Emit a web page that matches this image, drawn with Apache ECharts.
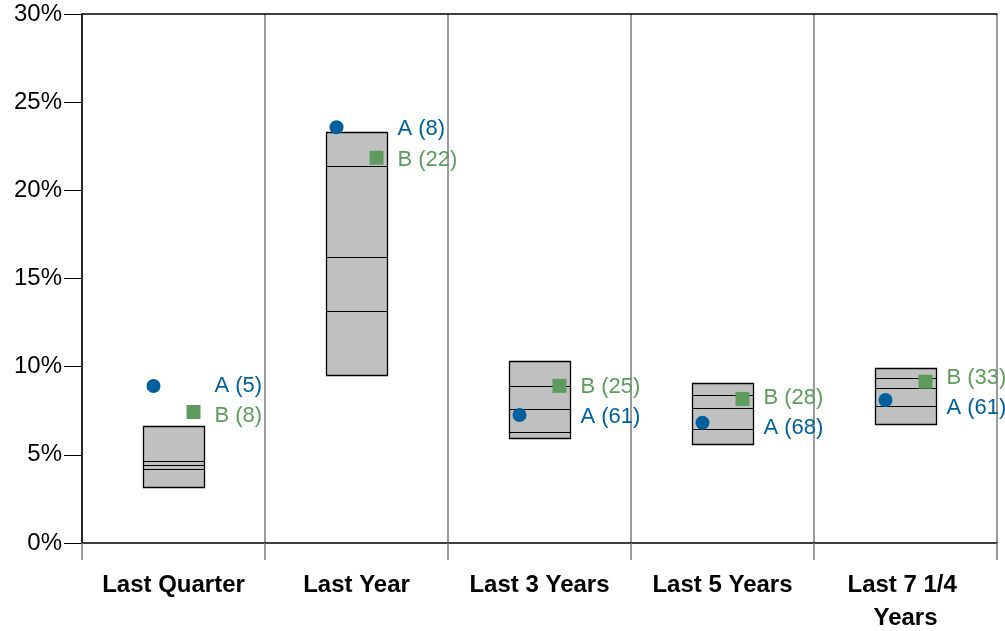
<!DOCTYPE html>
<html>
<head>
<meta charset="utf-8">
<script src="https://cdn.jsdelivr.net/npm/echarts@6/dist/echarts.min.js"></script>
<style>
  html, body { margin: 0; padding: 0; background: #fff; }
  #chart { width: 1005px; height: 631px; }
</style>
</head>
<body>
<div id="chart"></div>
<script>
// Peer universe ranges (percent) per period: top of box = 5th percentile,
// then 25th, median, 75th, bottom = 95th percentile.
const categories = ['Last Quarter', 'Last Year', 'Last 3 Years', 'Last 5 Years', 'Last 7 1/4 Years'];
const pct5  = [6.64, 23.33, 10.32, 9.09, 9.91];
const pct25 = [4.67, 21.38, 8.89, 8.39, 9.34];
const pct50 = [4.42, 16.24, 7.62, 7.67, 8.77];
const pct75 = [4.20, 13.14, 6.30, 6.45, 7.79];
const pct95 = [3.16, 9.51, 5.94, 5.62, 6.73];

// Portfolio returns (percent) and their percentile ranks
const returnsA = [8.90, 23.58, 7.26, 6.82, 8.11];
const returnsB = [7.43, 21.85, 8.91, 8.17, 9.15];
const rankA = [5, 8, 61, 68, 61];
const rankB = [8, 22, 25, 28, 33];

const yTicks = [0, 5, 10, 15, 20, 25, 30];

const COLOR_A = '#00609d';
const COLOR_B = '#5e9c5e';
const FONT = 'Liberation Sans, Arial, sans-serif';

const chart = echarts.init(document.getElementById('chart'), null, { renderer: 'canvas' });

const boxData = categories.map((c, i) => [i, pct5[i], pct25[i], pct50[i], pct75[i], pct95[i]]);

function renderBox(params, api) {
  const idx = api.value(0);
  const bandW = api.size([1, 0])[0];
  const w = bandW / 3;
  const cx = api.coord([idx, 0])[0];
  const x0 = Math.round(cx - w / 2) + 0.5;
  const x1 = Math.round(cx + w / 2) + 0.5;
  const yTop = api.coord([idx, api.value(1)])[1];
  const yBot = api.coord([idx, api.value(5)])[1];
  const inner = [2, 3, 4].map(k => Math.round(api.coord([idx, api.value(k)])[1]) + 0.5);
  const children = [{
    type: 'rect',
    shape: { x: x0, y: Math.round(yTop) + 0.5, width: x1 - x0, height: Math.round(yBot) - Math.round(yTop) },
    style: { fill: '#c0c0c0', stroke: '#000', lineWidth: 1.3 }
  }];
  inner.forEach(y => children.push({
    type: 'line',
    shape: { x1: x0, y1: y, x2: x1, y2: y },
    style: { stroke: '#000', lineWidth: 1 }
  }));
  return { type: 'group', children };
}

function pointSeries(name, values, ranks, color, symbol, xShift, labelDist) {
  return {
    name,
    type: 'scatter',
    symbol,
    symbolSize: 14,
    symbolOffset: [xShift, 0],
    itemStyle: { color, opacity: 1 },
    z: 5,
    data: values.map((v, i) => ({
      value: [i, v],
      label: {
        show: true,
        position: 'right',
        distance: labelDist,
        formatter: name + ' (' + ranks[i] + ')',
        color,
        fontFamily: FONT,
        fontSize: 22
      }
    }))
  };
}

const option = {
  animation: false,
  backgroundColor: '#fff',
  grid: { left: 82, right: 8, top: 14, bottom: 88, containLabel: false, outerBoundsMode: 'none' },
  xAxis: [{
    type: 'category',
    data: categories,
    boundaryGap: true,
    axisLine: { show: true, lineStyle: { color: '#000', width: 1.5 } },
    axisTick: { show: true, length: 17, inside: false, lineStyle: { color: '#7a7a7a', width: 1.5 } },
    splitLine: { show: true, lineStyle: { color: '#7a7a7a', width: 1.5 } },
    axisLabel: {
      margin: 26,
      color: '#000',
      fontFamily: FONT,
      fontWeight: 'bold',
      fontSize: 24,
      lineHeight: 33,
      width: 160,
      overflow: 'break',
      interval: 0
    }
  }, {
    type: 'category',
    data: categories,
    position: 'top',
    axisLine: { show: true, lineStyle: { color: '#000', width: 1.5 } },
    axisTick: { show: false },
    axisLabel: { show: false }
  }],
  yAxis: {
    type: 'value',
    min: yTicks[0],
    max: yTicks[yTicks.length - 1],
    interval: 5,
    axisLine: { show: true, lineStyle: { color: '#000', width: 1.5 } },
    axisTick: { show: true, length: 18, lineStyle: { color: '#000', width: 1 } },
    splitLine: { show: false },
    axisLabel: {
      margin: 20,
      color: '#000',
      fontFamily: FONT,
      fontSize: 24,
      padding: [5, 0, 0, 0],
      formatter: v => v + '%'
    }
  },
  series: [
    {
      type: 'custom',
      renderItem: renderBox,
      data: boxData,
      encode: { x: 0, y: [1, 2, 3, 4, 5] },
      z: 2
    },
    pointSeries('A', returnsA, rankA, COLOR_A, 'circle', -20, 54),
    pointSeries('B', returnsB, rankB, COLOR_B, 'rect', 20, 14)
  ]
};

chart.setOption(option);

// Spread the A/B labels apart vertically when their markers sit close together
const minGap = 30;
const nudge = 2;
const offA = [], offB = [];
categories.forEach((c, i) => {
  const ya = chart.convertToPixel({ yAxisIndex: 0 }, returnsA[i]);
  const yb = chart.convertToPixel({ yAxisIndex: 0 }, returnsB[i]);
  let da = 0, db = 0;
  if (Math.abs(ya - yb) < minGap) {
    const mid = (ya + yb) / 2;
    const aOnTop = ya <= yb;
    const ta = aOnTop ? mid - minGap / 2 : mid + minGap / 2;
    const tb = aOnTop ? mid + minGap / 2 : mid - minGap / 2;
    da = ta - ya;
    db = tb - yb;
  }
  offA.push(da + nudge);
  offB.push(db + nudge);
});

option.series[1].data.forEach((d, i) => { d.label.offset = [0, offA[i]]; });
option.series[2].data.forEach((d, i) => { d.label.offset = [0, offB[i]]; });
chart.setOption(option);
</script>
</body>
</html>
